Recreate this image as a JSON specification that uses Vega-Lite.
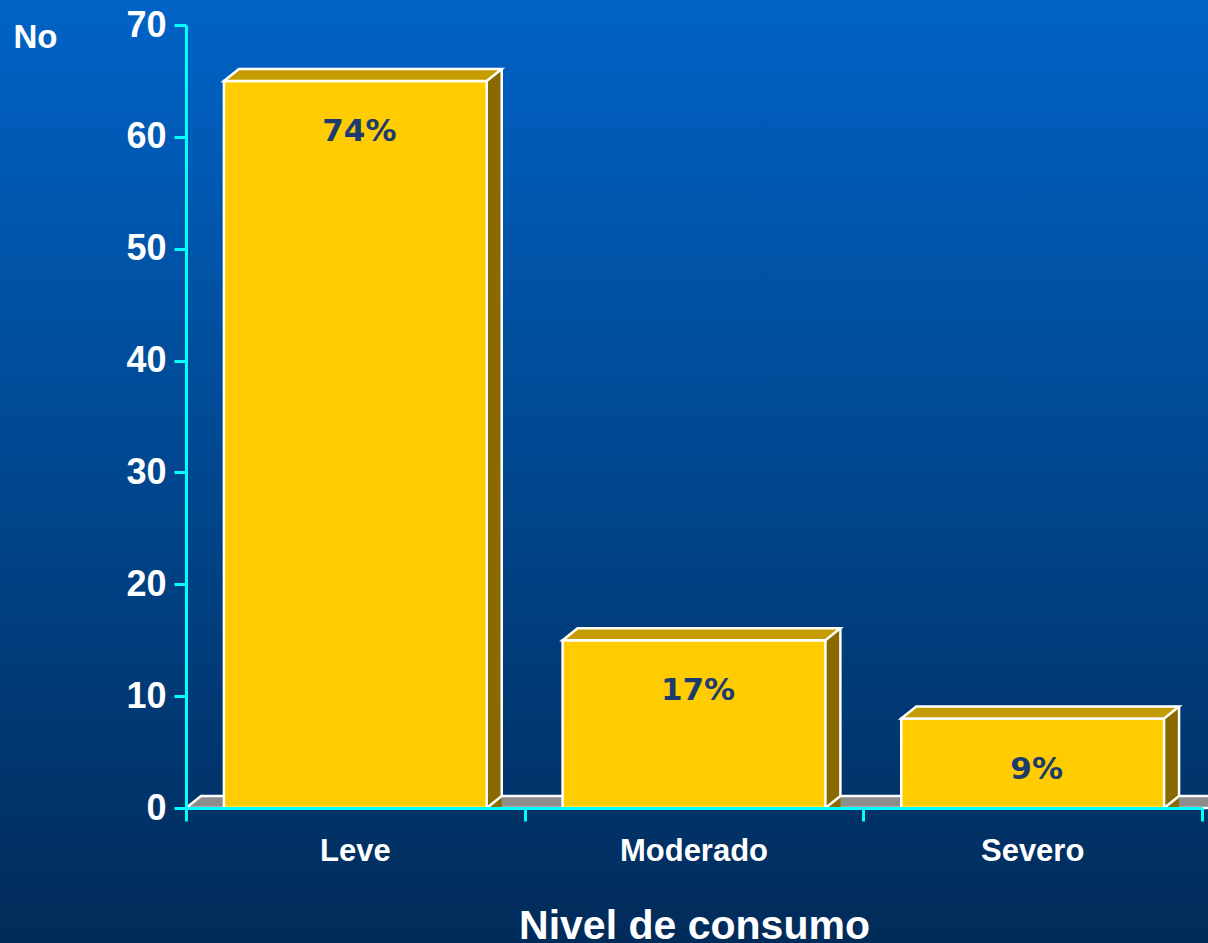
{
  "$schema": "https://vega.github.io/schema/vega-lite/v6.json",
  "width": 1016,
  "height": 783,
  "autosize": {"type": "none"},
  "padding": {"left": 186, "top": 25, "right": 6, "bottom": 135},
  "background": "#00468E",
  "config": {"view": {"stroke": null}},
  "data": {"values": [
    {"nivel": "Leve", "n": 65, "pct": "74%"},
    {"nivel": "Moderado", "n": 15, "pct": "17%"},
    {"nivel": "Severo", "n": 8, "pct": "9%"}
  ]},
  "resolve": {"scale": {"x": "independent"}},
  "layer": [
    {
      "data": {"values": [{}]},
      "mark": {
        "type": "rect", "clip": false,
        "xOffset": -186, "x2Offset": 6, "yOffset": -25, "y2Offset": 135,
        "fill": {"gradient": "linear", "x1": 0, "y1": 0, "x2": 0, "y2": 1,
          "stops": [
            {"offset": 0, "color": "#0063C6"},
            {"offset": 0.5, "color": "#00478F"},
            {"offset": 1, "color": "#012B59"}
          ]}
      },
      "encoding": {
        "x": {"datum": 0, "type": "quantitative", "scale": {"domain": [0, 3], "nice": false, "zero": false}, "axis": null},
        "x2": {"datum": 3},
        "y": {"datum": 70, "type": "quantitative", "scale": {"domain": [0, 70], "nice": false},
          "axis": {"title": "No", "values": [0, 10, 20, 30, 40, 50, 60, 70], "grid": false, "orient": "left",
            "domainColor": "#00FFFF", "domainWidth": 3, "tickColor": "#00FFFF", "tickWidth": 3, "tickSize": 12,
            "labelColor": "white", "labelFont": "Liberation Sans", "labelFontSize": 36, "labelFontWeight": "bold", "labelPadding": 8,
            "titleAngle": 0, "titleX": -173, "titleY": 22, "titleAlign": "left", "titleBaseline": "alphabetic",
            "titleColor": "white", "titleFont": "Liberation Sans", "titleFontSize": 33, "titleFontWeight": "bold", "zindex": 1}},
        "y2": {"datum": 0}
      }
    },
    {
      "data": {"values": [{}]},
      "mark": {
        "type": "point", "shape": "M-508,0 L522,0 L522,-12 L-493,-12 Z", "size": 4,
        "filled": true, "fill": "#8C8C8C", "stroke": "white", "strokeWidth": 2.5, "opacity": 1
      },
      "encoding": {
        "x": {"datum": 1.5, "type": "quantitative", "scale": {"domain": [0, 3], "nice": false, "zero": false},
          "axis": {"orient": "bottom", "values": [0, 1, 2, 3], "labels": false, "domain": false, "grid": false, "title": null,
            "ticks": true, "tickColor": "#00FFFF", "tickSize": 13, "tickWidth": 3, "zindex": 1}},
        "y": {"datum": 0, "type": "quantitative"}
      }
    },
    {
      "encoding": {
        "x": {"field": "nivel", "type": "nominal", "sort": null,
          "scale": {"paddingInner": 0.224, "paddingOuter": 0.112},
          "axis": {"orient": "bottom", "title": "Nivel de consumo", "ticks": false, "tickSize": 0, "grid": false,
            "domain": true, "domainColor": "#00FFFF", "domainWidth": 3,
            "labelAngle": 0, "labelColor": "white", "labelFont": "Liberation Sans", "labelFontSize": 31, "labelFontWeight": "bold", "labelPadding": 28,
            "titleColor": "white", "titleFont": "Liberation Sans", "titleFontSize": 41, "titleFontWeight": "bold",
            "titleY": 130, "titleBaseline": "alphabetic", "zindex": 1}}
      },
      "layer": [
        {
          "mark": {"type": "bar", "width": 15, "xOffset": 138.9, "yOffset": -12, "y2Offset": -12, "fill": "#8A6A00"},
          "encoding": {
            "y": {"field": "n", "type": "quantitative", "stack": null}
          }
        },
        {
          "mark": {"type": "point", "shape": "M131.4,0 L131.4,-12 L146.4,-12 Z", "size": 4, "filled": true, "fill": "#8A6A00", "strokeWidth": 0, "opacity": 1},
          "encoding": {"y": {"datum": 0, "type": "quantitative"}}
        },
        {
          "mark": {"type": "rule", "xOffset": 146.4, "yOffset": -12, "y2Offset": -12, "stroke": "white", "strokeWidth": 2.5},
          "encoding": {
            "y": {"field": "n", "type": "quantitative"},
            "y2": {"datum": 0}
          }
        },
        {
          "mark": {"type": "point", "shape": "M131.4,0 L146.4,-12", "size": 4, "filled": false, "fill": null, "stroke": "white", "strokeWidth": 2.5, "opacity": 1},
          "encoding": {"y": {"datum": 0, "type": "quantitative"}}
        },
        {
          "mark": {"type": "bar", "fill": "#FFCC00", "stroke": "white", "strokeWidth": 2.5},
          "encoding": {"y": {"field": "n", "type": "quantitative", "stack": null}}
        },
        {
          "mark": {"type": "point", "shape": "M-131.4,0 L131.4,0 L146.4,-12 L-116.4,-12 Z", "size": 4, "filled": true, "fill": "#C49C00", "stroke": "white", "strokeWidth": 2.5, "opacity": 1},
          "encoding": {"y": {"field": "n", "type": "quantitative"}}
        },
        {
          "mark": {"type": "text", "dy": 51, "dx": 4, "baseline": "middle", "align": "center", "font": "DejaVu Sans", "fontWeight": "bold", "fontSize": 31, "fill": "#1D3C6E"},
          "encoding": {
            "y": {"field": "n", "type": "quantitative"},
            "text": {"field": "pct", "type": "nominal"}
          }
        }
      ]
    }
  ]
}
